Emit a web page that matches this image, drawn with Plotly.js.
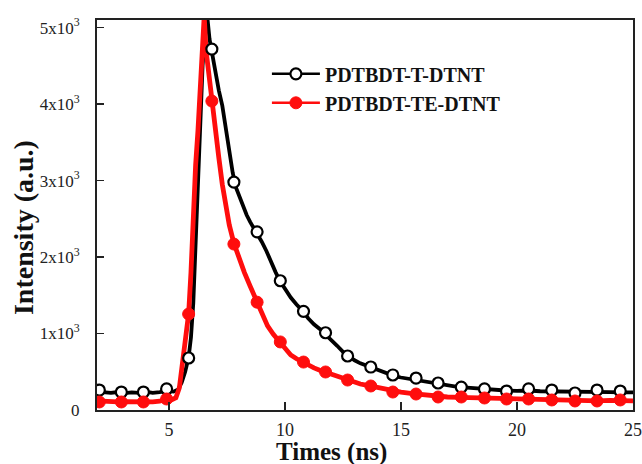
<!DOCTYPE html>
<html>
<head>
<meta charset="utf-8">
<script src="https://cdn.plot.ly/plotly-3.0.1.min.js"></script>
<style>
  html, body { margin: 0; padding: 0; background: #fff; }
  #chart { width: 642px; height: 464px; }
  .legend .traces { opacity: 1 !important; }
</style>
</head>
<body>
<div id="chart"></div>
<script>
// ---- Data ----
const seriesNames = ["PDTBDT-T-DTNT", "PDTBDT-TE-DTNT"];

// Black trace (PDTBDT-T-DTNT): decay curve
const tLineX = [1.9, 2.2, 2.5, 2.8, 3.1, 3.4, 3.7, 4.0, 4.3, 4.6, 4.9, 5.2, 5.4, 5.55, 5.7, 5.85, 5.95, 6.05, 6.15, 6.25, 6.35, 6.45, 6.55, 6.65, 6.75, 6.85, 7.0, 7.15, 7.3, 7.45, 7.6, 7.75, 7.9, 8.05, 8.2, 8.35, 8.5, 8.65, 8.8, 9.0, 9.2, 9.4, 9.6, 9.8, 10.0, 10.25, 10.5, 10.75, 11.0, 11.25, 11.5, 11.75, 12.0, 12.25, 12.5, 12.75, 13.0, 13.25, 13.5, 13.75, 14.0, 14.25, 14.5, 14.75, 15.0, 15.5, 16.0, 16.5, 17.0, 17.5, 18.0, 18.5, 19.0, 19.5, 20.0, 20.5, 21.0, 21.5, 22.0, 22.5, 23.0, 23.5, 24.0, 24.5, 25.0];
const tLineY = [240, 230, 225, 235, 220, 230, 225, 240, 225, 235, 250, 240, 270, 360, 500, 690, 950, 1400, 2200, 3100, 3850, 4500, 4950, 5150, 4850, 4680, 4400, 4180, 3980, 3700, 3400, 3100, 2900, 2780, 2660, 2550, 2460, 2380, 2320, 2200, 2080, 1930, 1800, 1680, 1590, 1470, 1380, 1300, 1200, 1120, 1060, 990, 920, 840, 760, 700, 650, 610, 580, 550, 520, 490, 460, 440, 425, 400, 370, 340, 320, 300, 290, 275, 265, 255, 250, 255, 245, 245, 240, 235, 240, 240, 235, 230, 230];

// Red trace (PDTBDT-TE-DTNT): decay curve
const teLineX = [1.9, 2.2, 2.5, 2.8, 3.1, 3.4, 3.7, 4.0, 4.3, 4.6, 4.9, 5.1, 5.3, 5.45, 5.6, 5.75, 5.85, 5.95, 6.05, 6.15, 6.25, 6.35, 6.45, 6.52, 6.6, 6.7, 6.85, 7.0, 7.15, 7.3, 7.45, 7.6, 7.8, 8.0, 8.25, 8.5, 8.8, 9.0, 9.25, 9.5, 9.8, 10.0, 10.25, 10.5, 10.8, 11.0, 11.25, 11.5, 11.75, 12.0, 12.25, 12.5, 12.75, 13.0, 13.25, 13.5, 13.75, 14.0, 14.5, 15.0, 15.5, 16.0, 16.5, 17.0, 17.5, 18.0, 18.5, 19.0, 19.5, 20.0, 20.5, 21.0, 21.5, 22.0, 22.5, 23.0, 23.5, 24.0, 24.5, 25.0];
const teLineY = [120, 110, 115, 105, 110, 105, 115, 110, 105, 115, 140, 130, 160, 290, 620, 1000, 1260, 1800, 2550, 3200, 3650, 4200, 4900, 5150, 4700, 4420, 4050, 3700, 3300, 2950, 2650, 2420, 2180, 2000, 1800, 1620, 1420, 1250, 1100, 990, 890, 800, 720, 670, 620, 580, 550, 520, 495, 460, 430, 405, 385, 360, 340, 325, 310, 290, 255, 235, 215, 195, 175, 170, 165, 160, 155, 150, 145, 140, 140, 135, 130, 125, 120, 120, 120, 125, 125, 120];

// Marker symbols (sparse points drawn on the curves)
const markerX = [2.0, 2.95, 3.9, 4.9, 5.85, 6.85, 7.8, 8.8, 9.8, 10.8, 11.75, 12.7, 13.7, 14.65, 15.65, 16.6, 17.6, 18.6, 19.55, 20.5, 21.5, 22.5, 23.45, 24.45];
const tMarkerY = [261, 235, 235, 275, 680, 4720, 2980, 2330, 1690, 1290, 1010, 706, 562, 458, 418, 353, 300, 275, 248, 275, 261, 222, 261, 248];
const teMarkerY = [105, 105, 105, 144, 1255, 4040, 2170, 1410, 890, 627, 497, 392, 314, 235, 209, 170, 170, 157, 144, 144, 131, 118, 118, 131];

// Axis ticks
const xTickVals = [5, 10, 15, 20, 25];
const yTickVals = [0, 1000, 2000, 3000, 4000, 5000];
const yTickText = ["0", "1x10<sup>3</sup>", "2x10<sup>3</sup>", "3x10<sup>3</sup>", "4x10<sup>3</sup>", "5x10<sup>3</sup>"];
const xTitle = "Times (ns)";
const yTitle = "Intensity (a.u.)";

// ---- Styling ----
const BLACK = "#000000";
const RED = "#ff0d0d";
const SERIF = "Liberation Serif, Times New Roman, serif";

const traces = [
  { x: tLineX, y: tLineY, mode: "lines", line: { color: BLACK, width: 3.8 }, showlegend: false, hoverinfo: "skip" },
  { x: teLineX, y: teLineY, mode: "lines", line: { color: RED, width: 4.8 }, showlegend: false, hoverinfo: "skip" },
  { x: markerX, y: tMarkerY, mode: "markers", showlegend: false,
    marker: { symbol: "circle", size: 11, color: "#ffffff", line: { color: BLACK, width: 2.2 } } },
  { x: markerX, y: teMarkerY, mode: "markers", showlegend: false,
    marker: { symbol: "circle", size: 12, color: RED, line: { color: RED, width: 1 } } },
  // legend entries (drawn in the legend only)
  { x: markerX, y: tMarkerY, name: seriesNames[0], mode: "lines+markers", visible: "legendonly",
    line: { color: BLACK, width: 2.5 },
    marker: { symbol: "circle", size: 11, color: "#ffffff", line: { color: BLACK, width: 2.2 } } },
  { x: markerX, y: teMarkerY, name: seriesNames[1], mode: "lines+markers", visible: "legendonly",
    line: { color: RED, width: 2.5 },
    marker: { symbol: "circle", size: 12, color: RED, line: { color: RED, width: 1 } } }
];

const layout = {
  width: 642, height: 464,
  margin: { l: 97, r: 9, t: 20, b: 54, pad: 0 },
  paper_bgcolor: "#ffffff",
  plot_bgcolor: "#ffffff",
  font: { family: SERIF, color: "#1a1a1a" },
  showlegend: true,
  legend: {
    x: 0.317, y: 0.912, xanchor: "left", yanchor: "top",
    bgcolor: "rgba(0,0,0,0)",
    font: { family: SERIF, size: 20, color: "#111", weight: "bold" },
    itemwidth: 48,
    itemclick: false, itemdoubleclick: false,
    tracegroupgap: 0
  },
  xaxis: {
    range: [1.9, 25],
    tickvals: xTickVals,
    ticks: "inside", ticklen: 8, tickwidth: 1.5, tickcolor: "#222",
    showline: true, linecolor: "#222", linewidth: 2, mirror: true,
    showgrid: false, zeroline: false,
    tickfont: { family: SERIF, size: 18, color: "#222" },
    ticklabelstandoff: 2
  },
  yaxis: {
    range: [0, 5100],
    tickvals: yTickVals, ticktext: yTickText,
    ticks: "inside", ticklen: 7, tickwidth: 1.5, tickcolor: "#222",
    showline: true, linecolor: "#222", linewidth: 2, mirror: true,
    showgrid: false, zeroline: false,
    tickfont: { family: SERIF, size: 17, color: "#222" },
    ticklabelstandoff: 12
  },
  annotations: [
    { text: "<b>" + xTitle + "</b>", xref: "paper", yref: "paper", x: 0.4366, y: -0.108,
      xanchor: "center", yanchor: "middle", showarrow: false,
      font: { family: SERIF, size: 25, color: "#111" } },
    { text: "<b>" + yTitle + "</b>", xref: "paper", yref: "paper", x: -0.136, y: 0.4667,
      xanchor: "center", yanchor: "middle", showarrow: false, textangle: -90,
      font: { family: SERIF, size: 28, color: "#111" } }
  ]
};

Plotly.newPlot("chart", traces, layout, { displayModeBar: false, staticPlot: true });
</script>
</body>
</html>
